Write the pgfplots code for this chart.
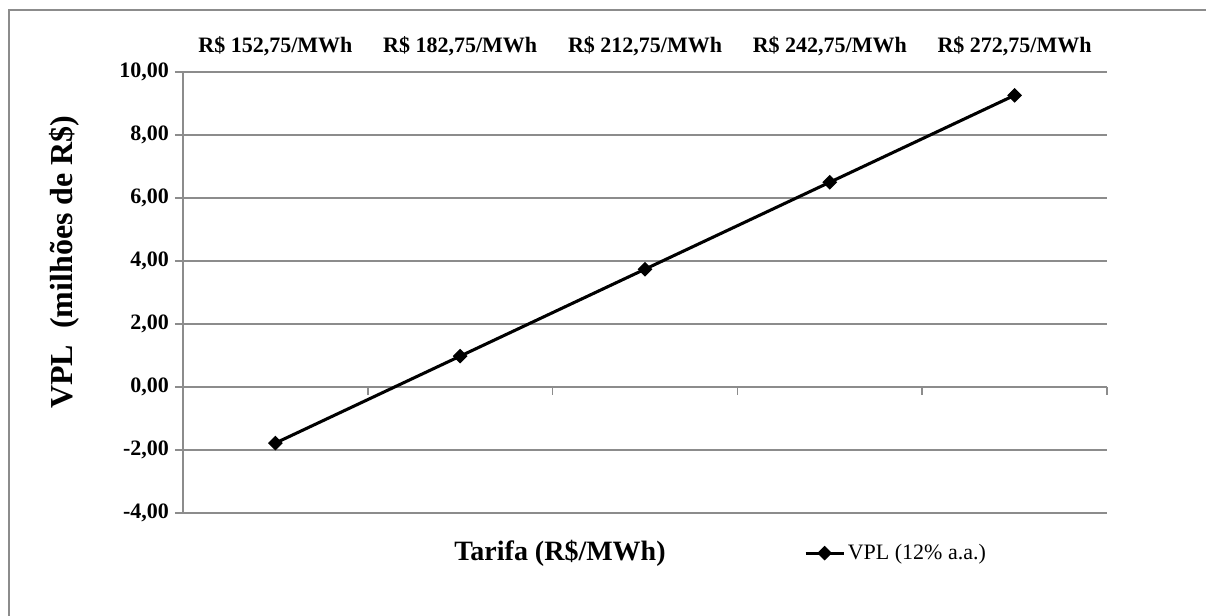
\documentclass[border=0pt]{standalone}
\usepackage{pgfplots}
\pgfplotsset{compat=1.18}
\usepackage{fontspec}
\setmainfont{Liberation Serif}
\definecolor{gridgray}{RGB}{140,140,140}

\begin{document}
\begin{tikzpicture}
% canvas, 1 px = 0.75 pt
\path[use as bounding box] (0,0) rectangle (904.5pt,462pt);
% chart frame (left and top edges)
\draw[gridgray, line width=1.5pt] (6.75pt,-10pt) -- (6.75pt,454.5pt) -- (915pt,454.5pt);

\begin{axis}[
  at={(137.25pt,77.25pt)}, anchor=south west,
  scale only axis, width=693pt, height=330.75pt,
  xmin=0.5, xmax=5.5, ymin=-4, ymax=10,
  axis line style={draw=none},
  xtick={1,...,5},
  xticklabels={{R\$ 152,75/MWh}, {R\$ 182,75/MWh}, {R\$ 212,75/MWh}, {R\$ 242,75/MWh}, {R\$ 272,75/MWh}},
  xticklabel pos=upper,
  xtick style={draw=none},
  xticklabel style={font=\fontsize{16.5}{18}\selectfont\bfseries, anchor=south, inner sep=0pt, yshift=5.5pt},
  ytick={-4,-2,...,10},
  ytick pos=left,
  tick align=outside,
  major tick length=6pt,
  ytick style={gridgray, line width=1.3pt},
  yticklabel style={font=\fontsize{16.5}{18}\selectfont\bfseries, xshift=-1pt},
  /pgf/number format/.cd, fixed, fixed zerofill, precision=2, use comma, assume math mode=true,
  /pgfplots/.cd,
  ymajorgrids,
  major grid style={gridgray, line width=1.3pt},
  ylabel={VPL\ \ (milhões de R\$)},
  ylabel style={at={(rel axis cs:-0.128,0.569)}, anchor=center, rotate=0, font=\fontsize{24}{26}\selectfont\bfseries},
  xlabel={Tarifa (R\$/MWh)},
  xlabel style={at={(rel axis cs:0.408,-0.091)}, anchor=center, font=\fontsize{21}{23}\selectfont\bfseries},
  legend style={at={(rel axis cs:0.772,-0.091)}, anchor=center, draw=none, fill=none,
    font=\fontsize{16.5}{18}\selectfont, inner sep=0pt},
  legend cell align=left,
  legend image code/.code={%
    \draw[#1, mark repeat=2, mark phase=2] plot coordinates {(0cm,0cm) (0.5cm,0cm) (1cm,0cm)};},
  clip=false,
]
% value axis line and tick marks on the category axis at zero
\draw[gridgray, line width=1.3pt] (axis cs:0.5,-4) -- (axis cs:0.5,10);
\pgfplotsinvokeforeach{1.5,2.5,3.5,4.5,5.5}{
  \draw[gridgray, line width=1.3pt] (axis cs:#1,0) -- ([yshift=-6pt]axis cs:#1,0);
}
\addplot[black, line width=2.3pt, mark=square*, mark size=3.4pt,
  mark options={rotate=45, solid, fill=black, line width=1pt}]
  coordinates {(1,-1.78) (2,0.98) (3,3.74) (4,6.50) (5,9.26)};
\addlegendentry{VPL (12\% a.a.)}
\end{axis}
\end{tikzpicture}
\end{document}
